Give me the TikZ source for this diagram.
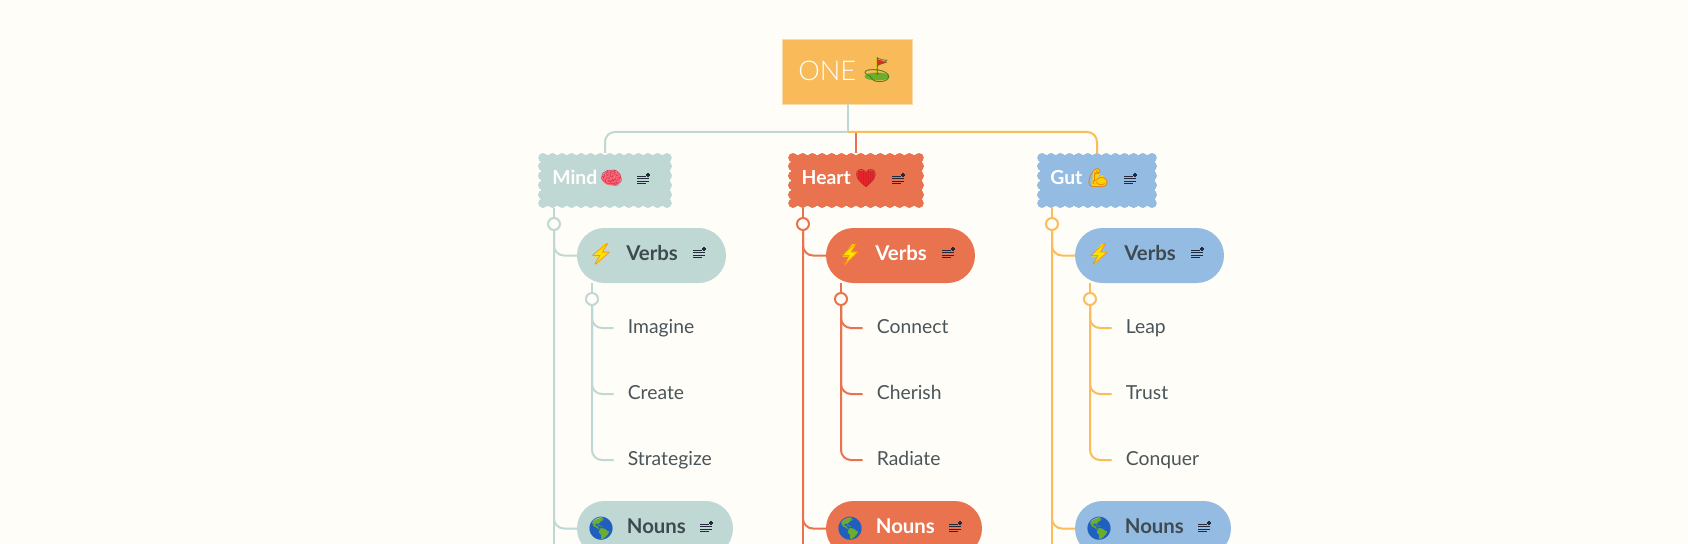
\documentclass[tikz,border=0pt]{standalone}
\usepackage{fontspec}
\setmainfont{Lato}
\newfontfamily\lightfont{Lato Light}
\newfontfamily\emojifont{Noto Emoji}
\usetikzlibrary{calc,positioning}

\definecolor{pagec}{HTML}{FFFDF8}
\definecolor{rootc}{HTML}{F9BA5A}
\definecolor{rootedge}{HTML}{FCD9A8}
\definecolor{mindc}{HTML}{C0D8D3}
\definecolor{heartc}{HTML}{EA734F}
\definecolor{gutc}{HTML}{94BCE3}
\definecolor{gutline}{HTML}{FBBC5C}
\definecolor{inkc}{HTML}{3E4A50}
\definecolor{leafc}{HTML}{4A5559}
\definecolor{iconc}{HTML}{23283A}
\definecolor{grassc}{HTML}{6BAE2E}
\definecolor{oceanc}{HTML}{1F5FC0}
\definecolor{redc}{HTML}{E8262B}
\def\px{0.02cm}

\tikzset{
  cloudbox/.style={fill=#1,minimum height=50*\px,inner sep=0pt,outer sep=2.5*\px},
  pillbox/.style={fill=#1,minimum height=55*\px,rounded corners=27.4*\px,outer sep=0pt},
  branch/.style={draw=#1,line width=2*\px,rounded corners=10*\px},
  dot/.style={circle,draw=#1,fill=pagec,line width=2*\px,minimum size=12*\px,inner sep=0pt},
  cloudlabel/.style={anchor=base west,inner sep=0pt,text=white,font=\bfseries\fontsize{11}{13}\selectfont},
  pilllabel/.style={anchor=base west,inner sep=0pt,font=\bfseries\fontsize{11.6}{14}\selectfont},
  leaflabel/.style={anchor=west,inner xsep=14*\px,inner ysep=0pt,text=leafc,
    text height=10*\px,text depth=0pt,font=\fontsize{11}{13}\selectfont},
  emoji/.style={inner sep=0pt,font=\emojifont\fontsize{#1}{#1}\selectfont},
  pics/addnote/.style={code={
    \draw[iconc,line width=1.3*\px] (-6,-3.6)--(3,-3.6) (-6,-1.2)--(6,-1.2) (-6,1.2)--(6,1.2) (-6,3.6)--(2.5,3.6);
    \draw[iconc,line width=1.2*\px] (3,-5)--(7,-5) (5,-7)--(5,-3);
  }},
  pics/boltback/.style={code={
    \fill[yellow!85!orange] (2.5,-10.5)--(-7.5,2)--(-1,2)--(-5,10.5)--(7.5,-3)--(1,-3)--(6,-10.5)--cycle;
  }},
  pics/globeback/.style={code={
    \fill[grassc] (0,0) circle (10.5);
  }},
}

\begin{document}
\begin{tikzpicture}[x=\px,y=-\px]
  \useasboundingbox (0,0) rectangle (1688,544);
  \fill[pagec] (0,0) rectangle (1688,544);
  \clip (0,0) rectangle (1688,544);

  % top of the map
  \node[fill=rootc,draw=rootedge,line width=1*\px,minimum width=130*\px,minimum height=65*\px,inner sep=0pt,outer sep=0pt] (root) at (847.5,72) {};
  \node[anchor=base west,inner sep=0pt,text=white,font=\lightfont\fontsize{15.5}{19}\selectfont] (rootlabel) at (798,81) {ONE};
  \fill[grassc] (877,76.5) ellipse (12.5 and 4);
  \fill[yellow!80!orange] (875.5,60) rectangle (877,75);
  \fill[redc] (877,59) -- (887,62.5) -- (877,65.5) -- cycle;
  \node[emoji=14,text=grassc!70!black] (rootflag) at (877,70) {⛳};
  \coordinate (hub) at (847.5,132);

  % scallops of the three clouds
  \foreach \cx/\hw/\n/\fillc in {605/67/13/mindc,856/68/13/heartc,1097/60/12/gutc}{
    \foreach \d in {0,...,\n}{
      \fill[\fillc] ({\cx-\hw+5+\d*(2*\hw-10)/\n},157.8) circle (4.8);
      \fill[\fillc] ({\cx-\hw+5+\d*(2*\hw-10)/\n},203.2) circle (4.8);
    }
    \foreach \e in {-1.5,-0.5,0.5,1.5}{
      \fill[\fillc] ({\cx-\hw+4.8},180.5+\e*9.5) circle (4.8);
      \fill[\fillc] ({\cx+\hw-4.8},180.5+\e*9.5) circle (4.8);
    }
  }

  % the three clouds
  \node[cloudbox=mindc,minimum width=129*\px] (mcloud) at (605,180.5) {};
  \node[cloudlabel] (mlabel) at (552,185) {Mind};
  \fill[red!45!pink] (611.5,178) ellipse (9.5 and 7.5);
  \node[emoji=10.5,text=purple!70!pink] (mpic) at (611.5,178) {🧠};
  \pic at (643,180) {addnote};
  \node[cloudbox=heartc,minimum width=131*\px] (hcloud) at (856,180.5) {};
  \node[cloudlabel] (hlabel) at (801.3,185) {Heart};
  \fill[redc] (866,187) .. controls (854,178.5) and (856,169.5) .. (862,170.5)
    .. controls (864,170.5) and (865.5,172) .. (866,173.5)
    .. controls (866.5,172) and (868,170.5) .. (870,170.5)
    .. controls (876,169.5) and (878,178.5) .. (866,187);
  \node[emoji=10,text=redc!85!black] (hpic) at (866,178) {❤};
  \pic at (898,180) {addnote};
  \node[cloudbox=gutc,minimum width=115*\px] (gcloud) at (1097,180.5) {};
  \node[cloudlabel] (glabel) at (1050,185) {Gut};
  \fill[yellow!70!orange] (1092,186.5) -- (1093,170) -- (1099,168.5) -- (1100,174) -- (1097,178) -- (1102,175) -- (1107,181) -- (1105,186.5) -- cycle;
  \node[emoji=10.5,text=orange!90!black] (gpic) at (1098,178) {💪};
  \pic at (1130,180) {addnote};

  \draw[branch=mindc] (root.south) -- (hub);
  \draw[branch=mindc] (hub) -| (mcloud.north);
  \draw[branch=heartc] (hub -| hcloud.north) -- (hcloud.north);
  \draw[branch=gutline] (hub) -| (gcloud.north);

  % one column for each cloud
  \foreach \key/\sx/\fillc/\linec/\inkname/\wa/\wb/\wc in {
      m/554/mindc/mindc/inkc/Imagine/Create/Strategize,
      h/803/heartc/heartc/white/Connect/Cherish/Radiate,
      g/1052/gutc/gutline/inkc/Leap/Trust/Conquer}{
    \node[pillbox=\fillc,minimum width=149*\px] (\key verbs) at (\sx+97.5,255.5) {};
    \node[pillbox=\fillc,minimum width=156*\px] (\key nouns) at (\sx+101,528.5) {};
    \node[pilllabel,text=\inkname] (\key verbslabel) at (\sx+72,260) {Verbs};
    \node[pilllabel,text=\inkname] (\key nounslabel) at (\sx+72.5,533) {Nouns};
    \pic at (\sx+47,254.5) {boltback};
    \node[emoji=12,text=orange!90!yellow] (\key bolt) at (\sx+47,254.5) {⚡};
    \pic at (\sx+47,528.5) {globeback};
    \node[emoji=13,text=oceanc] (\key globe) at (\sx+47,528.5) {🌎};
    \pic at (\sx+145,254) {addnote};
    \pic at (\sx+152,528) {addnote};
    \node[dot=\linec] (\key dot) at (\sx,224) {};
    \node[dot=\linec] (\key subdot) at (\sx+38,299) {};
    \node[leaflabel] (\key wa) at (\sx+59.5,328) {\wa};
    \node[leaflabel] (\key wb) at (\sx+59.5,394) {\wb};
    \node[leaflabel] (\key wc) at (\sx+59.5,460) {\wc};
    \coordinate (\key end) at (\sx,560);
    \draw[branch=\linec] (\key dot |- \key cloud.south) -- (\key dot);
    \draw[branch=\linec] (\key dot) -- (\key end);
    \draw[branch=\linec] (\key dot) |- (\key verbs.west);
    \draw[branch=\linec] (\key dot) |- (\key nouns.west);
    \draw[branch=\linec] (\key subdot |- \key verbs.south) -- (\key subdot);
    \foreach \w in {wa,wb,wc}
      \draw[branch=\linec] (\key subdot) |- (\key\w.west);
  }
\end{tikzpicture}
\end{document}
